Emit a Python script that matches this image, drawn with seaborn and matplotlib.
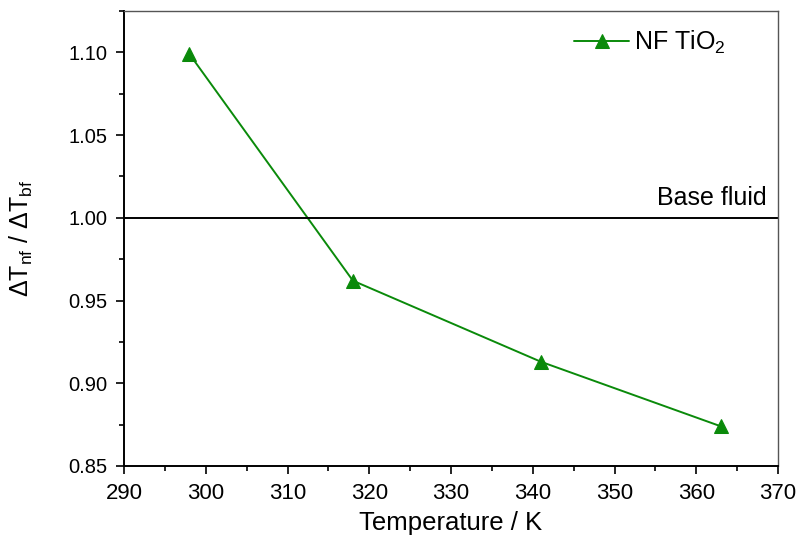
import matplotlib
matplotlib.use("Agg")
import matplotlib.pyplot as plt
import seaborn as sns
import pandas as pd
from matplotlib.ticker import MultipleLocator

temperature = [298, 318, 341, 363]
ratio = [1.099, 0.962, 0.913, 0.874]
series_name = "NF TiO$_2$"
base_value = 1.0

sns.set_theme(style="white")
plt.rcParams['font.family'] = ['Liberation Sans', 'DejaVu Sans']
plt.rcParams['mathtext.fontset'] = 'custom'
plt.rcParams['mathtext.rm'] = 'Liberation Sans'
plt.rcParams['mathtext.it'] = 'Liberation Sans'
plt.rcParams['text.color'] = 'black'

df = pd.DataFrame({"T": temperature, "r": ratio, "s": series_name})

fig = plt.figure(figsize=(7.99, 5.45), dpi=100)
ax = fig.add_axes([124/799, 1-466/545, (778-124)/799, (466-11)/545])

sns.lineplot(data=df, x="T", y="r", hue="s", palette=["#0a8a0a"], marker="^",
             markersize=10, markeredgecolor="#0a8a0a", linewidth=1.4, ax=ax)
ax.axhline(base_value, color="black", linewidth=1.4)
ax.text(368.6, 1.005, "Base fluid", ha="right", va="bottom", fontsize=18,
        color="black")

ax.set_xlim(290, 370)
ax.set_ylim(0.85, 1.125)
ax.xaxis.set_major_locator(MultipleLocator(10))
ax.xaxis.set_minor_locator(MultipleLocator(5))
ax.yaxis.set_major_locator(MultipleLocator(0.05))
ax.yaxis.set_minor_locator(MultipleLocator(0.025))
ax.yaxis.set_major_formatter(matplotlib.ticker.FormatStrFormatter('%.2f'))
ax.tick_params(axis="both", which="major", direction="out", length=6, width=1.2,
               bottom=True, left=True, top=False, right=False, color="black",
               labelcolor="black")
ax.tick_params(axis="x", which="major", labelsize=16, pad=6)
ax.tick_params(axis="y", which="major", labelsize=14.5, pad=6)
ax.tick_params(axis="both", which="minor", direction="out", length=3.5, width=1.2,
               bottom=True, left=True, top=False, right=False, color="black")
for side in ["left", "bottom"]:
    ax.spines[side].set_color("black")
    ax.spines[side].set_linewidth(1.4)
for side in ["top", "right"]:
    ax.spines[side].set_color("#555555")
    ax.spines[side].set_linewidth(1.0)

ax.set_xlabel("Temperature / K", fontsize=18.5, labelpad=5, color="black")
ax.set_ylabel("ΔT$_{\\mathrm{nf}}$ / ΔT$_{\\mathrm{bf}}$", fontsize=18, labelpad=24,
              color="black")

leg = ax.legend(loc="upper right", frameon=False, fontsize=18, handlelength=2.2,
                handletextpad=0.2, borderaxespad=0.0,
                bbox_to_anchor=(1 - 42/654, 1 - 8/455))
for t in leg.get_texts():
    t.set_text(series_name)
    t.set_color("black")

fig.savefig("out.png", dpi=100)
